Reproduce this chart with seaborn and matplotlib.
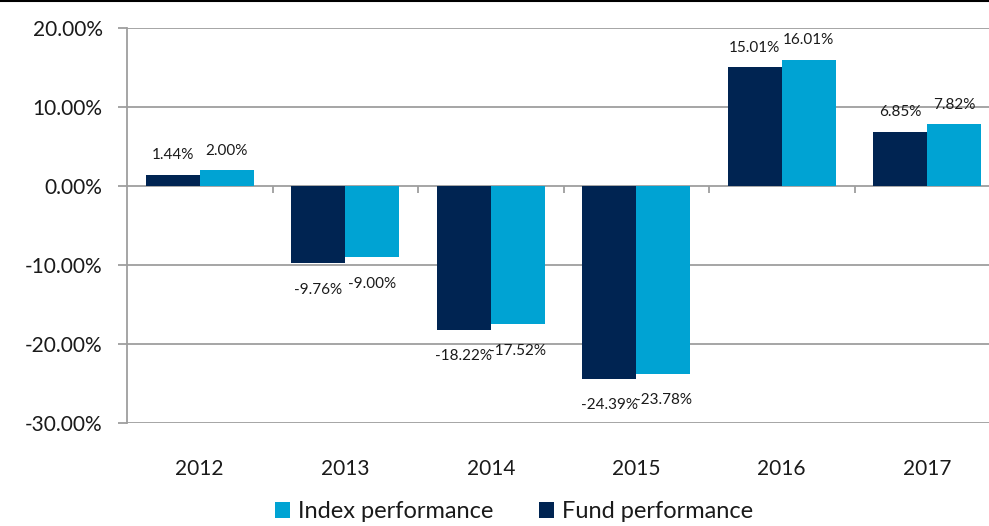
import pandas as pd
import seaborn as sns
import matplotlib.pyplot as plt
from matplotlib.patches import Patch
from matplotlib.lines import Line2D
from matplotlib.ticker import FuncFormatter

# data
years = ["2012", "2013", "2014", "2015", "2016", "2017"]
fund_perf = [1.44, -9.76, -18.22, -24.39, 15.01, 6.85]
index_perf = [2.00, -9.00, -17.52, -23.78, 16.01, 7.82]
series_names = ["Fund performance", "Index performance"]
colors = ["#002452", "#00A3D3"]

df = pd.DataFrame({
    "Year": years * 2,
    "Series": [series_names[0]] * len(years) + [series_names[1]] * len(years),
    "Value": fund_perf + index_perf,
})

sns.set_style("white")
plt.rcParams["font.family"] = ["Lato", "DejaVu Sans"]

fig = plt.figure(figsize=(9.89, 5.26), dpi=100)
ax = fig.add_axes([127 / 989, 1 - 423 / 526, 873 / 989, (423 - 28) / 526])

sns.barplot(data=df, x="Year", y="Value", hue="Series", order=years,
            hue_order=series_names, palette=colors, width=0.74,
            saturation=1, linewidth=0, legend=False, ax=ax)

ax.set_ylim(-30, 20)
ax.set_xlim(-0.5, 5.5)
ax.set_yticks(range(-30, 21, 10))
ax.yaxis.set_major_formatter(FuncFormatter(lambda v, p: f"{v:.2f}%"))
ax.set_xlabel("")
ax.set_ylabel("")

grid_col = "#9e9e9e"
ax.grid(axis="y", color=grid_col, linewidth=1.3)
ax.set_axisbelow(True)
for s in ["top", "right", "bottom"]:
    ax.spines[s].set_visible(False)
ax.spines["left"].set_color(grid_col)
ax.spines["left"].set_linewidth(1.3)

ax.tick_params(axis="y", length=6.5, width=1.3, color=grid_col, pad=11,
               labelsize=15, labelcolor="#1a1a1a", left=True)
ax.tick_params(axis="x", length=0, pad=26, labelsize=15, labelcolor="#1a1a1a")

# small separator ticks under the zero line between categories
ax.vlines([i + 0.5 for i in range(len(years) - 1)], -0.9, 0,
          color=grid_col, linewidth=1.3)

# value labels
for container, vals in zip(ax.containers, [fund_perf, index_perf]):
    for bar, v in zip(container, vals):
        x = bar.get_x() + bar.get_width() / 2
        if v >= 0:
            ax.annotate(f"{v:.2f}%", (x, v), xytext=(0, 9), textcoords="offset points",
                        ha="center", va="bottom", fontsize=11, color="#1a1a1a")
        else:
            ax.annotate(f"{v:.2f}%", (x, v), xytext=(0, -14), textcoords="offset points",
                        ha="center", va="top", fontsize=11, color="#1a1a1a")

# legend: index first, then fund
handles = [Patch(facecolor=colors[1], edgecolor="none"),
           Patch(facecolor=colors[0], edgecolor="none")]
fig.legend(handles, [series_names[1], series_names[0]], loc="center",
           bbox_to_anchor=(514 / 989, 1 - 512 / 526), ncol=2, frameon=False,
           fontsize=17, handlelength=0.65, handleheight=0.65, handletextpad=0.35,
           columnspacing=1.9, labelcolor="#1a1a1a")

# thin black rule across the top of the image
fig.add_artist(Line2D([0, 1], [0.998, 0.998], color="black", linewidth=1.5,
                      transform=fig.transFigure))

plt.savefig("out.png", dpi=100)
